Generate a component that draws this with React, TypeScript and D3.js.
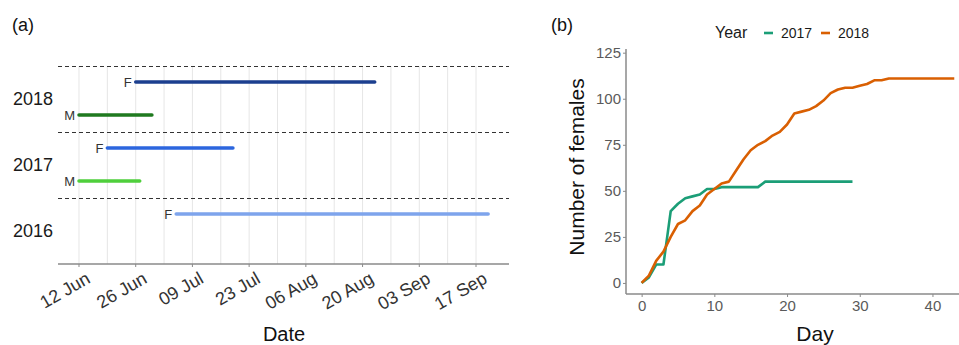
import React, { Component } from 'react';
import * as d3 from 'd3';

// Panel (a): presence periods, all seasons drawn on one calendar
const yearLevels = ['2018', '2017', '2016'];
const segYear = ['2018', '2018', '2017', '2017', '2016'];
const segSex = ['F', 'M', 'F', 'M', 'F'];
const segStart = ['2018-06-26', '2018-06-12', '2018-06-19', '2018-06-12', '2018-07-06'];
const segEnd = ['2018-08-24', '2018-06-30', '2018-07-20', '2018-06-27', '2018-09-21'];
const dateTicks = ['2018-06-12', '2018-06-26', '2018-07-10', '2018-07-24', '2018-08-07', '2018-08-21', '2018-09-04', '2018-09-18'];
const dateTickLabels = ['12 Jun', '26 Jun', '09 Jul', '23 Jul', '06 Aug', '20 Aug', '03 Sep', '17 Sep'];

// Panel (b): cumulative number of females per day
const females2017 = [0, 3, 10, 10, 39, 43, 46, 47, 48, 51, 51, 52, 52, 52, 52, 52, 52, 55, 55, 55, 55, 55, 55, 55, 55, 55, 55, 55, 55, 55];
const females2018 = [0, 4, 12, 17, 25, 32, 34, 39, 42, 48, 51, 54, 55, 61, 67, 72, 75, 77, 80, 82, 86, 92, 93, 94, 96, 99, 103, 105, 106, 106, 107, 108, 110, 110, 111, 111, 111, 111, 111, 111, 111, 111, 111, 111];
const countTicks = [0, 25, 50, 75, 100, 125];
const dayTicks = [0, 10, 20, 30, 40];

const segColors = {
    '2018F': '#1c3f8f',
    '2018M': '#1f7a1f',
    '2017F': '#2c66de',
    '2017M': '#4fcf3c',
    '2016F': '#7ea4ec'
};
const lineColors = { '2017': '#1b9e77', '2018': '#d95f02' };
const FONT = 'Liberation Sans, Arial, sans-serif';

class App extends Component {
    svgRef = React.createRef<SVGSVGElement>();

    componentDidMount() {
        this.drawChart();
    }

    componentDidUpdate() {
        this.drawChart();
    }

    drawChart() {
        const svg = d3.select(this.svgRef.current);
        svg.selectAll('*').remove();
        svg.attr('font-family', FONT);

        const parse = d3.utcParse('%Y-%m-%d');

        // ---------- panel (a) ----------
        const left = 58, right = 509, top = 66, bottom = 264;
        const xDate = d3.scaleUtc()
            .domain([new Date(Date.UTC(2018, 5, 6, 19, 40)), new Date(Date.UTC(2018, 8, 26, 3, 30))])
            .range([left, right]);
        const yYear = d3.scaleBand().domain(yearLevels).range([top, bottom]);
        const ySex = d3.scalePoint().domain(['F', 'M']).range([-17, 16]);

        const a = svg.append('g');
        const majors = dateTicks.map((d) => parse(d));
        const minors = majors.slice(1).map((d, i) => new Date((d.getTime() + majors[i].getTime()) / 2));

        a.selectAll('line.grid')
            .data([...majors, ...minors])
            .join('line')
            .attr('x1', (d) => xDate(d))
            .attr('x2', (d) => xDate(d))
            .attr('y1', top)
            .attr('y2', bottom)
            .attr('stroke', '#e6e6e6')
            .attr('stroke-width', 1);

        // band separators
        a.selectAll('line.sep')
            .data(yearLevels)
            .join('line')
            .attr('x1', left)
            .attr('x2', right)
            .attr('y1', (d) => yYear(d) + 0.5)
            .attr('y2', (d) => yYear(d) + 0.5)
            .attr('stroke', '#333')
            .attr('stroke-width', 1)
            .attr('stroke-dasharray', '4,3');

        const segs = segYear.map((y, i) => ({
            year: y,
            sex: segSex[i],
            start: parse(segStart[i]),
            end: parse(segEnd[i])
        }));
        const segY = (d) => yYear(d.year) + yYear.bandwidth() / 2 + ySex(d.sex);

        a.selectAll('line.seg')
            .data(segs)
            .join('line')
            .attr('x1', (d) => xDate(d.start))
            .attr('x2', (d) => xDate(d.end))
            .attr('y1', segY)
            .attr('y2', segY)
            .attr('stroke', (d) => segColors[d.year + d.sex])
            .attr('stroke-width', 3.5)
            .attr('stroke-linecap', 'round');

        a.selectAll('text.sex')
            .data(segs)
            .join('text')
            .attr('x', (d) => xDate(d.start) - 4)
            .attr('y', segY)
            .attr('dy', '0.36em')
            .attr('text-anchor', 'end')
            .attr('font-size', 13)
            .attr('fill', '#333')
            .text((d) => d.sex);

        a.selectAll('text.year')
            .data(yearLevels)
            .join('text')
            .attr('x', 53)
            .attr('y', (d) => yYear(d) + yYear.bandwidth() / 2)
            .attr('dy', '0.36em')
            .attr('text-anchor', 'end')
            .attr('font-size', 18)
            .attr('fill', '#1a1a1a')
            .text((d) => d);

        a.append('line')
            .attr('x1', left).attr('x2', right)
            .attr('y1', bottom).attr('y2', bottom)
            .attr('stroke', '#8a8a8a').attr('stroke-width', 1.5);

        a.selectAll('line.tick')
            .data(majors)
            .join('line')
            .attr('x1', (d) => xDate(d)).attr('x2', (d) => xDate(d))
            .attr('y1', bottom).attr('y2', bottom + 3)
            .attr('stroke', '#8a8a8a');

        a.selectAll('text.tick')
            .data(majors)
            .join('text')
            .attr('transform', (d) => `translate(${xDate(d) + 6},${bottom + 7}) rotate(-30)`)
            .attr('dy', '0.71em')
            .attr('text-anchor', 'end')
            .attr('font-size', 18)
            .attr('fill', '#333')
            .text((d, i) => dateTickLabels[i]);

        a.append('text')
            .attr('x', 284).attr('y', 341)
            .attr('text-anchor', 'middle')
            .attr('font-size', 20)
            .attr('fill', '#111')
            .text('Date');

        svg.append('text')
            .attr('x', 12).attr('y', 31)
            .attr('font-size', 18)
            .attr('fill', '#111')
            .text('(a)');

        // ---------- panel (b) ----------
        const bLeft = 626, bRight = 959, bTop = 49, bBottom = 294;
        const xDay = d3.scaleLinear().domain([-2.15, 43.65]).range([bLeft, bRight]);
        const yCount = d3.scaleLinear().domain([-6, 127]).range([bBottom, bTop]);

        const b = svg.append('g');

        const line = d3.line<number>()
            .x((d, i) => xDay(i))
            .y((d) => yCount(d));

        [['2017', females2017], ['2018', females2018]].forEach(([year, values]) => {
            b.append('path')
                .datum(values)
                .attr('d', line)
                .attr('fill', 'none')
                .attr('stroke', lineColors[year])
                .attr('stroke-width', 2.6)
                .attr('stroke-linejoin', 'round');
        });

        const yAxis = b.append('g')
            .attr('transform', `translate(${bLeft},0)`)
            .call(d3.axisLeft(yCount).tickValues(countTicks).tickSize(3).tickPadding(2));
        const xAxis = b.append('g')
            .attr('transform', `translate(0,${bBottom})`)
            .call(d3.axisBottom(xDay).tickValues(dayTicks).tickSize(3).tickPadding(3));

        [xAxis, yAxis].forEach((ax) => {
            ax.select('.domain').attr('stroke', '#8a8a8a').attr('stroke-width', 1.5);
            ax.selectAll('.tick line').attr('stroke', '#8a8a8a');
            ax.selectAll('.tick text')
                .attr('font-family', FONT)
                .attr('font-size', 15)
                .attr('fill', '#5a5a5a');
        });
        // straighten the domain path (no end ticks outside range)
        yAxis.select('.domain').attr('d', `M0,${bTop}V${bBottom}`);
        xAxis.select('.domain').attr('d', `M${bLeft},0H${bRight}`);

        b.append('text')
            .attr('transform', `translate(584,167) rotate(-90)`)
            .attr('text-anchor', 'middle')
            .attr('font-size', 21)
            .attr('fill', '#111')
            .text('Number of females');

        b.append('text')
            .attr('x', 815).attr('y', 341)
            .attr('text-anchor', 'middle')
            .attr('font-size', 21)
            .attr('fill', '#111')
            .text('Day');

        svg.append('text')
            .attr('x', 551).attr('y', 31)
            .attr('font-size', 18)
            .attr('fill', '#111')
            .text('(b)');

        // legend
        const legend = b.append('g');
        legend.append('text')
            .attr('x', 715).attr('y', 38)
            .attr('font-size', 16)
            .attr('fill', '#1a1a1a')
            .text('Year');
        const legendX = { '2017': 764, '2018': 821 };
        Object.keys(lineColors).forEach((year) => {
            legend.append('line')
                .attr('x1', legendX[year]).attr('x2', legendX[year] + 9)
                .attr('y1', 33).attr('y2', 33)
                .attr('stroke', lineColors[year])
                .attr('stroke-width', 2.6);
            legend.append('text')
                .attr('x', legendX[year] + 17).attr('y', 38)
                .attr('font-size', 14)
                .attr('fill', '#1a1a1a')
                .text(year);
        });
    }

    render() {
        return (
            <svg
                ref={this.svgRef}
                width={959}
                height={345}
                style={{ position: 'absolute', left: 0, top: 0, background: '#fff' }}
            />
        );
    }
}

export default App;
